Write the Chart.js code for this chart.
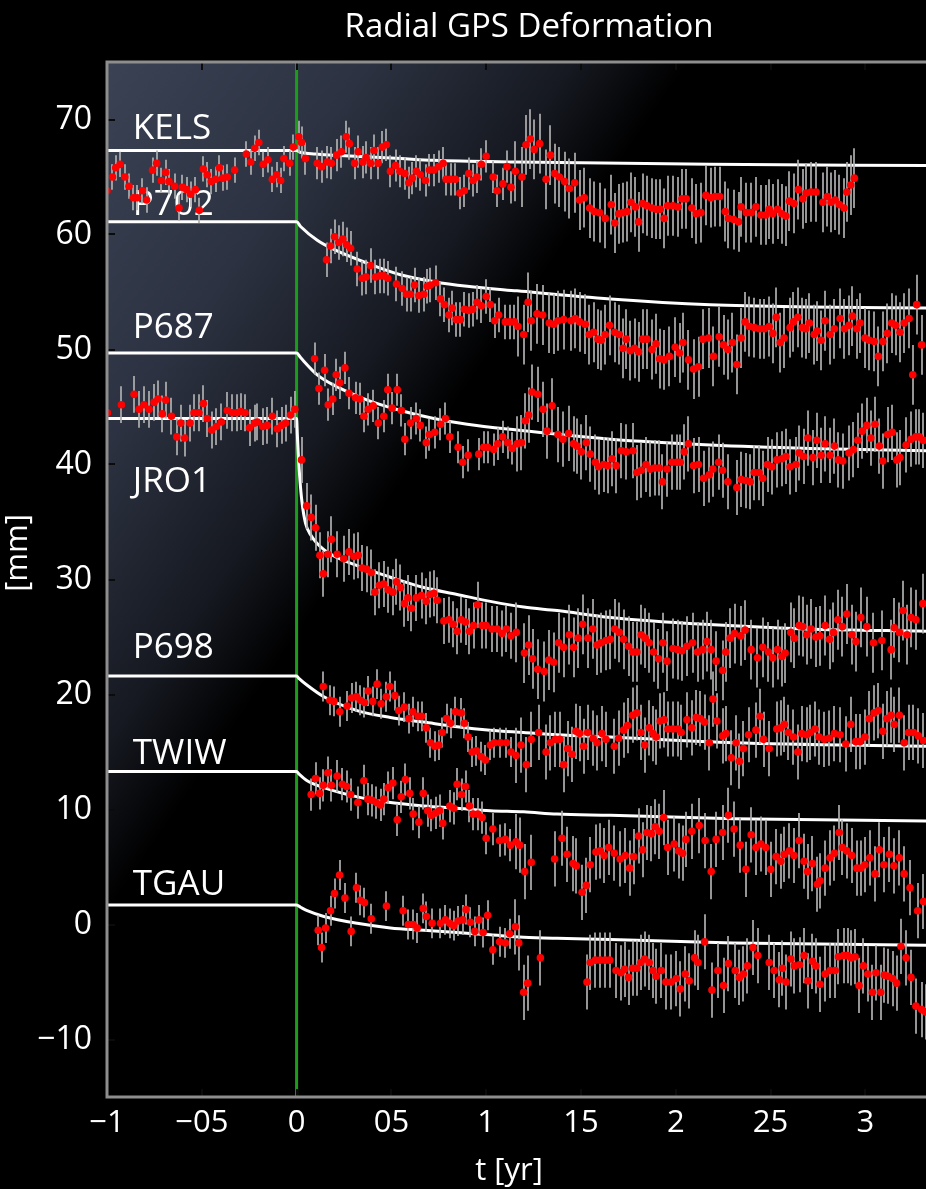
<!DOCTYPE html>
<html>
<head>
<meta charset="utf-8">
<title>Radial GPS Deformation</title>
<script src="https://cdn.jsdelivr.net/npm/chart.js@4.4.1/dist/chart.umd.min.js"></script>
<style>
  html, body { margin: 0; padding: 0; background: #000; }
  #wrap { width: 926px; height: 1189px; position: relative; }
  canvas { display: block; }
</style>
</head>
<body>
<div id="wrap"><canvas id="c" width="926" height="1189"></canvas></div>
<script>
// ---- axes ----
const xMin = -1, xMax = 3.32;
const yMin = -15, yMax = 75;
const xTickVals = [-1, -0.5, 0, 0.5, 1, 1.5, 2, 2.5, 3];
const xTickText = ['\u22121', '\u221205', '0', '05', '1', '15', '2', '25', '3'];
const yTickVals = [-10, 0, 10, 20, 30, 40, 50, 60, 70];
const yTickText = ['\u221210', '0', '10', '20', '30', '40', '50', '60', '70'];

// ---- stations ----
const stationNames = ['KELS', 'P702', 'P687', 'JRO1', 'P698', 'TWIW', 'TGAU'];
const labelLevels = [68.3, 61.7, 51.0, 37.6, 23.2, 14.0, 2.6];   // mm, text baseline
const labelT = -0.864;                                           // yr, text start
// error-bar half widths (mm): before event, early post-event, late post-event
const errPre   = [1.1, 0, 0, 1.6, 0, 0, 0];
const errEarly = [1.4, 1.5, 1.4, 2.0, 1.3, 1.4, 1.3];
const errLate  = [2.6, 2.6, 2.4, 2.6, 2.4, 2.4, 2.4];
const errSwitchT = 1.15;

// ---- observations [t (yr), radial (mm)] ----
const kelsObs = [[-1.000,63.8],[-0.971,65.0],[-0.954,65.8],[-0.931,66.1],[-0.906,65.0],[-0.884,64.2],[-0.861,63.2],[-0.840,63.2],[-0.813,63.8],[-0.791,63.0],[-0.760,65.6],[-0.738,66.2],[-0.713,64.7],[-0.690,65.4],[-0.673,64.6],[-0.643,64.2],[-0.620,62.3],[-0.602,64.1],[-0.580,63.9],[-0.559,63.5],[-0.534,63.9],[-0.513,62.1],[-0.492,65.7],[-0.471,65.2],[-0.450,64.6],[-0.427,64.8],[-0.407,65.8],[-0.390,64.9],[-0.365,65.0],[-0.327,65.6],[-0.265,67.0],[-0.242,66.3],[-0.221,67.5],[-0.199,68.0],[-0.176,66.1],[-0.151,66.5],[-0.128,64.8],[-0.105,65.2],[-0.084,64.7],[-0.067,66.6],[-0.037,66.2],[-0.017,67.6],
[0.012,68.5],[0.026,68.0],[0.047,66.6],[0.109,66.2],[0.132,65.9],[0.162,66.3],[0.184,66.2],[0.211,66.9],[0.236,67.2],[0.262,68.5],[0.279,67.9],[0.306,66.2],[0.325,67.2],[0.350,66.3],[0.367,66.7],[0.390,66.2],[0.408,67.3],[0.430,66.2],[0.452,67.6],[0.474,67.8],[0.495,65.5],[0.522,66.0],[0.545,65.5],[0.571,65.3],[0.592,64.5],[0.610,64.9],[0.632,65.5],[0.653,65.2],[0.680,64.7],[0.701,65.6],[0.724,65.6],[0.750,65.9],[0.773,66.2],[0.789,64.8],[0.812,64.8],[0.838,64.8],[0.861,63.6],[0.885,63.8],[0.908,65.3],[0.931,64.7],[0.952,65.0],[0.975,66.1],[1.000,66.8],[1.037,65.0],[1.058,63.8],[1.088,64.4],[1.110,65.9],[1.131,64.1],[1.154,65.5],[1.189,65.0],[1.210,67.8],[1.233,68.3],[1.254,67.4],[1.282,67.9],[1.316,64.8],[1.339,66.9],[1.361,65.3],[1.386,65.0],[1.414,64.6],[1.439,64.0],[1.467,64.5],[1.493,63.0],[1.518,63.2],[1.546,62.3],[1.570,62.0],[1.598,61.9],[1.628,61.4],[1.660,62.6],[1.678,61.0],[1.699,61.8],[1.722,61.9],[1.743,62.0],[1.764,62.8],[1.787,62.4],[1.804,61.1],[1.825,62.7],[1.848,62.5],[1.875,62.3],[1.897,62.2],[1.918,62.2],[1.939,61.4],[1.957,62.5],[1.985,62.5],[2.012,62.4],[2.033,63.1],[2.055,63.1],[2.085,62.3],[2.108,61.8],[2.133,61.9],[2.159,63.4],[2.185,63.2],[2.208,63.3],[2.231,63.3],[2.261,62.0],[2.278,61.4],[2.305,61.3],[2.331,61.1],[2.345,62.4],[2.372,61.9],[2.398,61.9],[2.423,62.4],[2.449,61.7],[2.475,61.7],[2.493,62.2],[2.512,61.8],[2.537,62.2],[2.560,61.8],[2.581,61.6],[2.600,62.9],[2.624,62.7],[2.647,63.9],[2.670,63.1],[2.688,63.6],[2.714,63.7],[2.740,63.7],[2.776,62.8],[2.800,63.3],[2.820,62.8],[2.841,63.0],[2.863,62.6],[2.888,62.3],[2.902,63.7],[2.923,64.3],[2.942,64.9]];

const p702Obs = [[0.158,57.8],[0.179,59.0],[0.200,59.8],[0.223,59.3],[0.244,59.6],[0.264,59.1],[0.285,58.8],[0.320,57.0],[0.346,56.2],[0.367,56.3],[0.390,57.3],[0.416,56.3],[0.439,56.4],[0.460,56.4],[0.481,56.2],[0.527,55.7],[0.557,55.3],[0.580,54.8],[0.601,54.8],[0.622,55.6],[0.645,54.7],[0.671,54.8],[0.689,55.5],[0.706,55.6],[0.733,55.8],[0.759,54.4],[0.780,53.9],[0.803,53.0],[0.821,53.6],[0.842,52.6],[0.864,52.6],[0.885,53.5],[0.908,53.4],[0.929,53.5],[0.952,54.1],[0.975,53.8],[1.000,54.6],[1.022,53.9],[1.045,52.5],[1.066,53.0],[1.101,52.4],[1.124,52.4],[1.149,52.4],[1.168,52.0],[1.198,51.3],[1.221,54.1],[1.238,52.5],[1.268,53.1],[1.298,53.0],[1.333,52.3],[1.356,52.2],[1.379,52.5],[1.409,52.6],[1.448,52.5],[1.470,52.7],[1.493,52.4],[1.523,52.2],[1.544,51.3],[1.567,51.5],[1.590,50.9],[1.607,50.8],[1.628,51.3],[1.651,52.1],[1.678,51.5],[1.702,51.3],[1.722,50.1],[1.739,50.9],[1.760,49.9],[1.783,50.1],[1.804,49.8],[1.825,50.9],[1.848,50.9],[1.875,50.0],[1.896,50.5],[1.915,49.2],[1.939,49.1],[1.967,49.4],[1.997,50.2],[2.020,49.7],[2.038,50.6],[2.067,49.1],[2.094,48.3],[2.120,48.5],[2.143,50.9],[2.173,51.0],[2.199,49.4],[2.229,51.1],[2.252,50.4],[2.275,50.0],[2.299,50.6],[2.322,48.7],[2.345,51.0],[2.366,52.4],[2.389,52.0],[2.415,51.9],[2.442,51.8],[2.468,51.8],[2.493,52.0],[2.512,51.4],[2.530,52.8],[2.551,50.6],[2.572,51.0],[2.603,51.9],[2.621,52.4],[2.644,52.8],[2.668,51.9],[2.686,51.8],[2.705,52.3],[2.730,51.3],[2.747,51.6],[2.767,50.8],[2.788,52.5],[2.814,51.3],[2.837,51.8],[2.867,52.7],[2.890,51.8],[2.914,52.1],[2.932,52.9],[2.955,51.8],[2.972,52.3],[2.998,51.0],[3.021,50.8],[3.047,50.7],[3.069,49.4],[3.092,50.7],[3.116,51.4],[3.139,52.3],[3.160,52.1],[3.183,51.5],[3.205,52.3],[3.231,52.7],[3.250,47.8],[3.271,53.9],[3.297,50.4]];

const p687Obs = [[0.095,49.2],[0.118,46.6],[0.148,48.2],[0.167,45.2],[0.191,45.7],[0.209,47.8],[0.228,47.1],[0.255,48.4],[0.276,46.2],[0.311,45.8],[0.334,45.7],[0.355,44.2],[0.378,44.8],[0.404,45.1],[0.431,43.6],[0.460,44.2],[0.481,46.5],[0.504,44.9],[0.531,46.5],[0.553,44.7],[0.571,42.2],[0.601,43.6],[0.631,44.0],[0.653,43.4],[0.684,41.9],[0.701,42.6],[0.729,42.8],[0.759,43.5],[0.785,44.0],[0.808,42.4],[0.852,41.5],[0.876,40.2],[0.905,40.8],[0.961,40.9],[0.987,41.5],[1.008,41.5],[1.040,41.3],[1.061,41.8],[1.087,42.4],[1.114,41.9],[1.137,41.4],[1.163,41.8],[1.186,41.9],[1.207,43.8],[1.224,44.3],[1.242,46.3],[1.272,46.1],[1.300,44.8],[1.321,42.9],[1.348,45.1],[1.379,42.6],[1.405,42.2],[1.435,42.7],[1.461,41.8],[1.479,41.6],[1.502,41.1],[1.528,41.9],[1.549,40.9],[1.576,40.2],[1.593,39.8],[1.620,40.0],[1.641,39.9],[1.664,40.5],[1.686,39.9],[1.713,41.2],[1.739,41.1],[1.774,41.2],[1.795,39.3],[1.818,39.5],[1.843,40.0],[1.866,39.6],[1.888,39.7],[1.913,39.7],[1.930,38.5],[1.954,39.6],[1.980,40.2],[2.006,40.2],[2.024,40.2],[2.045,41.1],[2.067,41.8],[2.094,39.9],[2.120,40.0],[2.147,38.8],[2.177,39.1],[2.196,39.6],[2.226,40.2],[2.247,39.5],[2.275,38.5],[2.322,38.0],[2.345,38.7],[2.370,38.6],[2.393,38.5],[2.414,39.3],[2.440,39.3],[2.459,38.8],[2.484,40.0],[2.507,39.8],[2.533,40.4],[2.560,40.5],[2.581,40.7],[2.603,39.8],[2.634,40.0],[2.651,41.0],[2.674,40.7],[2.697,42.3],[2.723,40.6],[2.744,42.1],[2.767,40.8],[2.788,41.8],[2.814,40.8],[2.837,41.6],[2.858,40.4],[2.881,40.3],[2.914,41.0],[2.937,41.3],[2.960,42.1],[2.984,42.9],[3.008,43.4],[3.029,42.3],[3.051,43.5],[3.074,41.6],[3.092,40.3],[3.118,42.6],[3.142,42.8],[3.166,40.4],[3.183,40.6],[3.215,41.7],[3.241,42.2],[3.266,42.4],[3.285,42.4],[3.306,42.1]];

const jro1Obs = [[-0.998,44.5],[-0.924,45.2],[-0.857,46.1],[-0.831,44.8],[-0.805,45.2],[-0.778,44.8],[-0.752,45.4],[-0.731,45.7],[-0.708,44.4],[-0.690,45.6],[-0.660,44.2],[-0.632,42.4],[-0.611,43.6],[-0.590,42.3],[-0.562,43.6],[-0.541,44.5],[-0.515,44.5],[-0.492,45.3],[-0.471,44.0],[-0.448,43.0],[-0.423,43.3],[-0.397,43.7],[-0.365,44.7],[-0.339,44.5],[-0.316,44.5],[-0.295,44.6],[-0.272,44.5],[-0.248,43.2],[-0.221,43.6],[-0.207,43.7],[-0.178,43.3],[-0.155,43.4],[-0.128,44.2],[-0.102,43.1],[-0.079,43.4],[-0.058,43.6],[-0.032,44.3],[-0.009,44.8],
[0.026,40.4],[0.053,36.4],[0.077,35.4],[0.100,34.5],[0.123,32.1],[0.141,30.5],[0.165,32.2],[0.184,33.5],[0.214,32.2],[0.249,31.8],[0.276,32.4],[0.302,32.0],[0.325,32.1],[0.346,31.0],[0.369,30.9],[0.394,30.6],[0.413,28.9],[0.437,29.5],[0.460,29.6],[0.483,29.1],[0.508,28.9],[0.527,29.8],[0.548,29.3],[0.569,27.9],[0.587,28.4],[0.606,27.5],[0.631,28.4],[0.659,28.6],[0.684,28.1],[0.703,28.7],[0.724,28.8],[0.742,28.2],[0.777,26.4],[0.803,26.5],[0.826,26.1],[0.847,25.5],[0.868,26.5],[0.891,26.3],[0.912,25.5],[0.934,26.0],[0.955,27.8],[0.979,26.0],[1.000,26.0],[1.031,25.7],[1.058,25.7],[1.084,25.3],[1.107,25.7],[1.131,25.1],[1.159,25.4],[1.202,23.6],[1.224,24.3],[1.245,23.1],[1.272,22.2],[1.307,22.0],[1.330,23.0],[1.356,22.8],[1.382,24.5],[1.409,24.1],[1.439,25.2],[1.461,24.1],[1.485,24.9],[1.509,26.1],[1.537,24.9],[1.562,25.7],[1.585,24.3],[1.607,24.5],[1.632,24.7],[1.655,24.8],[1.678,25.7],[1.702,25.4],[1.725,24.8],[1.751,24.2],[1.774,23.7],[1.795,23.7],[1.818,25.2],[1.839,24.9],[1.860,24.5],[1.883,23.7],[1.909,23.1],[1.932,24.5],[1.954,22.9],[1.985,24.0],[2.010,23.9],[2.033,23.8],[2.059,24.2],[2.089,24.5],[2.115,23.7],[2.143,23.9],[2.164,24.6],[2.187,23.9],[2.213,22.9],[2.247,22.1],[2.264,23.7],[2.287,24.9],[2.310,25.3],[2.343,25.1],[2.366,25.6],[2.398,23.9],[2.431,23.2],[2.459,24.1],[2.489,23.7],[2.512,23.2],[2.537,23.9],[2.560,23.3],[2.577,23.6],[2.607,25.4],[2.626,24.9],[2.651,26.0],[2.670,25.9],[2.691,25.2],[2.714,25.7],[2.739,25.0],[2.761,25.1],[2.788,26.0],[2.811,24.8],[2.832,25.4],[2.855,26.5],[2.879,25.9],[2.902,27.0],[2.929,25.2],[2.951,24.6],[2.976,26.7],[3.008,25.9],[3.043,24.5],[3.087,24.7],[3.136,23.9],[3.153,25.8],[3.180,25.4],[3.199,27.3],[3.220,25.2],[3.241,26.7],[3.267,26.5],[3.303,27.9]];

const p698Obs = [[0.141,20.7],[0.176,19.5],[0.197,19.4],[0.228,18.5],[0.267,19.0],[0.290,19.7],[0.316,19.8],[0.337,19.5],[0.358,19.3],[0.378,20.3],[0.402,19.4],[0.425,20.9],[0.446,19.2],[0.473,19.8],[0.492,20.7],[0.518,19.9],[0.539,18.6],[0.569,18.9],[0.592,17.9],[0.613,18.5],[0.641,18.1],[0.659,18.1],[0.684,17.1],[0.706,15.8],[0.729,15.5],[0.750,15.6],[0.768,16.7],[0.791,17.9],[0.812,17.5],[0.838,18.5],[0.868,18.4],[0.885,17.5],[0.905,16.3],[0.926,15.0],[0.949,15.1],[0.973,14.6],[0.996,14.3],[1.022,15.6],[1.043,15.8],[1.075,15.8],[1.107,15.8],[1.131,15.0],[1.158,14.7],[1.184,15.6],[1.212,13.9],[1.238,16.1],[1.277,16.7],[1.316,15.0],[1.339,15.8],[1.365,16.1],[1.388,16.1],[1.409,13.9],[1.430,15.3],[1.453,14.8],[1.474,16.8],[1.493,16.6],[1.514,15.5],[1.535,16.7],[1.564,16.2],[1.585,15.8],[1.611,16.6],[1.632,16.1],[1.676,15.5],[1.699,16.2],[1.725,16.9],[1.746,17.3],[1.772,18.2],[1.795,18.4],[1.816,16.7],[1.836,15.6],[1.860,17.1],[1.880,16.6],[1.897,16.3],[1.918,17.7],[1.939,17.8],[1.959,17.0],[1.985,17.0],[2.012,17.0],[2.029,16.7],[2.059,17.8],[2.085,17.1],[2.108,18.0],[2.129,17.9],[2.152,17.6],[2.177,15.8],[2.196,19.6],[2.217,17.7],[2.247,16.4],[2.266,16.6],[2.293,14.5],[2.318,15.8],[2.336,14.2],[2.357,15.3],[2.384,16.5],[2.423,16.9],[2.445,18.1],[2.463,16.1],[2.493,15.3],[2.533,17.0],[2.554,17.1],[2.573,17.4],[2.594,16.7],[2.621,16.3],[2.644,15.0],[2.665,16.6],[2.691,16.5],[2.709,16.7],[2.735,17.0],[2.756,16.3],[2.784,16.1],[2.809,16.2],[2.837,16.6],[2.867,16.5],[2.897,15.7],[2.923,17.4],[2.950,15.9],[2.972,15.9],[2.998,16.3],[3.021,17.9],[3.046,18.4],[3.069,18.6],[3.092,16.8],[3.114,17.9],[3.136,18.2],[3.153,17.4],[3.180,18.2],[3.205,15.8],[3.228,16.7],[3.254,16.7],[3.280,16.4],[3.306,16.0]];

const twiwObs = [[0.077,11.3],[0.100,12.7],[0.121,11.4],[0.141,12.1],[0.165,13.2],[0.184,12.1],[0.214,12.9],[0.241,12.2],[0.264,12.0],[0.285,11.3],[0.323,10.6],[0.355,12.5],[0.376,10.9],[0.399,10.8],[0.421,10.6],[0.443,10.4],[0.460,10.9],[0.483,11.9],[0.508,12.3],[0.531,9.1],[0.552,11.1],[0.574,12.6],[0.597,11.4],[0.615,9.6],[0.645,8.9],[0.668,11.4],[0.692,9.9],[0.711,9.5],[0.733,9.7],[0.754,9.9],[0.771,8.8],[0.808,10.3],[0.829,10.1],[0.847,12.2],[0.870,11.3],[0.891,12.0],[0.912,10.3],[0.931,9.6],[0.956,9.6],[0.979,9.3],[1.000,7.5],[1.035,8.3],[1.071,7.3],[1.101,7.4],[1.128,6.9],[1.158,7.2],[1.177,6.9],[1.203,4.6],[1.238,5.4],[1.361,5.7],[1.400,7.5],[1.427,6.1],[1.458,5.3],[1.476,5.1],[1.506,2.8],[1.528,3.4],[1.549,5.2],[1.579,6.3],[1.602,6.4],[1.623,6.0],[1.646,6.7],[1.676,6.2],[1.707,5.7],[1.734,6.0],[1.757,4.9],[1.778,5.9],[1.804,7.7],[1.825,6.5],[1.848,8.0],[1.871,7.9],[1.892,8.5],[1.913,8.1],[1.936,9.3],[1.957,6.7],[1.992,7.0],[2.015,6.4],[2.036,6.2],[2.054,7.4],[2.085,8.1],[2.124,8.6],[2.155,7.3],[2.187,4.6],[2.213,7.4],[2.247,8.0],[2.278,9.5],[2.308,8.3],[2.340,6.9],[2.370,4.8],[2.398,7.8],[2.423,6.7],[2.449,7.0],[2.475,6.7],[2.501,4.8],[2.529,5.9],[2.554,5.5],[2.572,6.1],[2.600,6.4],[2.624,6.0],[2.651,7.3],[2.677,5.5],[2.695,4.6],[2.721,5.3],[2.747,3.5],[2.761,3.8],[2.788,4.9],[2.814,5.8],[2.837,6.2],[2.862,8.0],[2.879,6.7],[2.902,6.4],[2.929,6.0],[2.955,4.9],[2.976,4.9],[2.998,5.2],[3.024,5.8],[3.051,4.4],[3.074,6.5],[3.098,5.2],[3.127,6.1],[3.151,5.1],[3.179,5.8],[3.205,4.4],[3.236,3.2],[3.276,1.2],[3.306,2.0]];

const tgauObs = [[0.114,-0.5],[0.132,-2.0],[0.153,-0.3],[0.179,1.2],[0.200,2.7],[0.227,4.3],[0.255,2.3],[0.288,-0.6],[0.316,3.2],[0.337,2.1],[0.358,1.9],[0.394,0.5],[0.474,1.6],[0.562,1.2],[0.589,0.0],[0.615,0.0],[0.636,-0.3],[0.668,1.4],[0.685,0.7],[0.715,0.1],[0.759,0.1],[0.785,0.4],[0.808,0.1],[0.829,-0.1],[0.852,0.3],[0.876,0.4],[0.894,1.3],[0.917,0.2],[0.940,-0.6],[0.961,0.4],[0.984,-0.7],[1.008,0.8],[1.035,-2.2],[1.071,-1.5],[1.101,-1.6],[1.124,-0.8],[1.154,-0.2],[1.172,-1.6],[1.198,-5.9],[1.219,-5.1],[1.286,-2.9],[1.532,-5.0],[1.549,-3.3],[1.576,-3.1],[1.602,-3.1],[1.628,-3.1],[1.651,-3.1],[1.685,-4.0],[1.711,-4.2],[1.730,-3.9],[1.751,-4.6],[1.772,-3.8],[1.795,-3.8],[1.816,-3.3],[1.836,-3.0],[1.860,-3.3],[1.880,-4.0],[1.897,-4.5],[1.924,-4.0],[1.948,-5.0],[1.976,-5.0],[2.003,-4.7],[2.024,-5.6],[2.050,-4.3],[2.071,-4.9],[2.099,-2.9],[2.117,-3.3],[2.152,-1.5],[2.191,-5.7],[2.222,-4.0],[2.252,-5.3],[2.278,-3.4],[2.314,-4.0],[2.336,-4.6],[2.357,-4.3],[2.378,-3.6],[2.407,-2.0],[2.433,-2.7],[2.493,-3.3],[2.519,-4.0],[2.546,-4.8],[2.563,-3.8],[2.582,-5.0],[2.607,-3.0],[2.626,-3.6],[2.653,-3.5],[2.677,-2.7],[2.697,-4.9],[2.721,-3.2],[2.739,-3.6],[2.761,-5.2],[2.788,-4.3],[2.814,-4.0],[2.841,-4.0],[2.858,-2.8],[2.885,-2.7],[2.906,-2.7],[2.925,-2.9],[2.946,-2.8],[2.967,-5.3],[2.990,-3.6],[3.013,-4.3],[3.037,-5.9],[3.056,-4.2],[3.081,-5.9],[3.100,-4.4],[3.121,-4.5],[3.144,-4.7],[3.165,-5.1],[3.188,-1.9],[3.215,-2.9],[3.241,-4.6],[3.267,-7.1],[3.297,-7.4],[3.318,-7.6]];

// ---- model curves [t (yr), radial (mm)] ----
const kelsFit = [[-1,67.3],[0,67.3],[0.02,67.15],[0.1,67.0],[0.2,66.9],[0.55,66.6],[0.72,66.45],[1.16,66.3],[2.18,66.1],[3.32,66.0]];
const p702Fit = [[-1,61.1],[0,61.1],[0.021,60.7],[0.109,59.5],[0.197,58.7],[0.373,57.5],[0.548,56.5],[0.724,55.9],[0.900,55.5],[1.163,55.1],[1.655,54.4],[2.182,53.9],[2.709,53.7],[3.32,53.6]];
const p687Fit = [[-1,49.7],[0,49.7],[0.021,49.3],[0.109,47.8],[0.197,46.9],[0.373,45.6],[0.548,44.7],[0.724,44.0],[0.900,43.5],[1.163,43.0],[1.655,42.2],[2.182,41.7],[2.709,41.4],[3.32,41.2]];
const jro1Fit = [[-1,44.0],[0,44.0],[0.004,42.6],[0.010,40.6],[0.018,38.6],[0.028,36.8],[0.047,34.9],[0.074,33.9],[0.144,32.6],[0.320,31.2],[0.495,30.2],[0.671,29.3],[0.847,28.7],[1.022,28.1],[1.198,27.6],[1.374,27.3],[1.655,26.7],[2.150,26.1],[2.687,25.7],[3.32,25.5]];
const p698Fit = [[-1,21.6],[0,21.6],[0.012,21.4],[0.056,20.8],[0.144,19.8],[0.320,18.6],[0.495,18.0],[0.671,17.6],[0.847,17.2],[1.022,16.9],[1.198,16.7],[1.374,16.5],[1.655,16.3],[2.305,15.8],[3.32,15.5]];
const twiwFit = [[-1,13.3],[0,13.3],[0.012,13.1],[0.056,12.5],[0.144,11.9],[0.320,11.1],[0.495,10.6],[0.671,10.3],[0.847,10.1],[1.022,9.9],[1.198,9.8],[1.374,9.6],[1.655,9.5],[2.305,9.2],[3.32,9.0]];
const tgauFit = [[-1,1.7],[0,1.7],[0.021,1.5],[0.056,1.2],[0.144,0.7],[0.320,0.1],[0.495,-0.3],[0.671,-0.5],[0.847,-0.7],[1.022,-0.9],[1.198,-1.1],[1.374,-1.2],[1.655,-1.3],[2.305,-1.6],[3.32,-1.8]];

// event time marker
const eventT = 0;

const observations = [kelsObs, p702Obs, p687Obs, jro1Obs, p698Obs, twiwObs, tgauObs];
const fits = [kelsFit, p702Fit, p687Fit, jro1Fit, p698Fit, twiwFit, tgauFit];

const FONT = '"Open Sans", "DejaVu Sans", sans-serif';
const toXY = arr => arr.map(p => ({x: p[0], y: p[1]}));

function halfError(stationIdx, t) {
  if (t < 0) return errPre[stationIdx];
  return t < errSwitchT ? errEarly[stationIdx] : errLate[stationIdx];
}

const datasets = [];
// green event line
datasets.push({
  type: 'line', kind: 'event',
  data: [{x: eventT, y: yMin}, {x: eventT, y: yMax}],
  borderColor: '#1b9c1b', borderWidth: 3, pointRadius: 0, order: 3, clip: 0
});
// model curves
fits.forEach((f, i) => datasets.push({
  type: 'line', kind: 'fit', station: i,
  data: toXY(f),
  borderColor: '#ffffff', borderWidth: 3, pointRadius: 0,
  cubicInterpolationMode: 'monotone', order: 2, clip: 0
}));
// observations
observations.forEach((o, i) => datasets.push({
  type: 'scatter', kind: 'obs', station: i,
  data: toXY(o),
  backgroundColor: '#ff0000', borderWidth: 0, pointRadius: 3.8,
  order: 1, clip: 0
}));

let barsDrawn = false;

const decor = {
  id: 'decor',
  beforeDraw(chart) {
    const {ctx, chartArea: a, scales} = chart;
    ctx.save();
    ctx.fillStyle = '#000';
    ctx.fillRect(0, 0, chart.width, chart.height);
    // soft light in the upper-left of the plot
    const L = 480;
    const g = ctx.createLinearGradient(a.left, a.top, a.left + 0.826 * L, a.top + 0.565 * L);
    g.addColorStop(0, 'rgb(58,66,84)');
    g.addColorStop(0.45, 'rgb(44,50,65)');
    g.addColorStop(0.8, 'rgb(22,25,33)');
    g.addColorStop(1, 'rgb(0,0,0)');
    ctx.fillStyle = g;
    ctx.fillRect(a.left, a.top, a.right - a.left, a.bottom - a.top);
    // station names
    ctx.fillStyle = '#ffffff';
    ctx.font = '35px ' + FONT;
    ctx.textAlign = 'left';
    ctx.textBaseline = 'alphabetic';
    stationNames.forEach((n, i) => {
      ctx.fillText(n, scales.x.getPixelForValue(labelT), scales.y.getPixelForValue(labelLevels[i]));
    });
    ctx.restore();
    barsDrawn = false;
  },
  beforeDatasetDraw(chart, args) {
    const ds = chart.data.datasets[args.index];
    if (barsDrawn || ds.kind !== 'obs') return;
    barsDrawn = true;
    const {ctx, chartArea: a, scales: {x, y}} = chart;
    ctx.save();
    ctx.beginPath();
    ctx.rect(a.left, a.top, a.right - a.left, a.bottom - a.top);
    ctx.clip();
    ctx.strokeStyle = 'rgba(175,175,175,0.85)';
    ctx.lineWidth = 2;
    ctx.beginPath();
    observations.forEach((o, i) => {
      o.forEach(p => {
        const e = halfError(i, p[0]);
        const px = Math.round(x.getPixelForValue(p[0]));
        ctx.moveTo(px, y.getPixelForValue(p[1] + e));
        ctx.lineTo(px, y.getPixelForValue(p[1] - e));
      });
    });
    ctx.stroke();
    ctx.restore();
  },
  afterDatasetsDraw(chart) {
    const {ctx, chartArea: a, scales: {x, y}} = chart;
    ctx.save();
    // inward tick marks
    ctx.strokeStyle = '#0b0b0b';
    ctx.lineWidth = 2;
    ctx.beginPath();
    yTickVals.forEach(v => {
      const py = Math.round(y.getPixelForValue(v));
      ctx.moveTo(a.left, py); ctx.lineTo(a.left + 8, py);
    });
    xTickVals.forEach(v => {
      const px = Math.round(x.getPixelForValue(v));
      ctx.moveTo(px, a.top); ctx.lineTo(px, a.top + 8);
      ctx.moveTo(px, a.bottom); ctx.lineTo(px, a.bottom - 8);
    });
    ctx.stroke();
    // frame
    ctx.strokeStyle = '#8e8e8e';
    ctx.lineWidth = 3;
    ctx.beginPath();
    ctx.moveTo(chart.width + 5, a.top);
    ctx.lineTo(a.left, a.top);
    ctx.lineTo(a.left, a.bottom);
    ctx.lineTo(chart.width + 5, a.bottom);
    ctx.stroke();
    ctx.restore();
  },
  afterDraw(chart) {
    const {ctx} = chart;
    ctx.save();
    ctx.fillStyle = '#ffffff';
    ctx.textAlign = 'center';
    ctx.textBaseline = 'alphabetic';
    ctx.font = '33px ' + FONT;
    ctx.fillText('Radial GPS Deformation', 529, 37);
    ctx.font = '31px ' + FONT;
    ctx.fillText('t [yr]', 509, 1180);
    ctx.translate(27, 553);
    ctx.rotate(-Math.PI / 2);
    ctx.fillText('[mm]', 0, 0);
    ctx.restore();
  }
};

function labelFor(vals, texts, v) {
  const i = vals.findIndex(t => Math.abs(t - v) < 1e-9);
  return i < 0 ? '' : texts[i];
}

function build() {
  new Chart(document.getElementById('c'), {
    type: 'scatter',
    data: {datasets},
    plugins: [decor],
    options: {
      responsive: false,
      animation: false,
      devicePixelRatio: 1,
      layout: {autoPadding: false, padding: {top: 62, left: 0, right: 0, bottom: 0}},
      plugins: {legend: {display: false}, tooltip: {enabled: false}, title: {display: false}},
      scales: {
        x: {
          type: 'linear', min: xMin, max: xMax,
          afterBuildTicks: s => { s.ticks = xTickVals.map(v => ({value: v})); },
          afterFit: s => { s.height = 92; s.paddingLeft = 0; s.paddingRight = 0; },
          grid: {display: false, drawTicks: false},
          border: {display: false},
          ticks: {
            color: '#ffffff', font: {family: FONT, size: 31}, padding: 8,
            autoSkip: false, maxRotation: 0, minRotation: 0,
            callback: v => labelFor(xTickVals, xTickText, v)
          }
        },
        y: {
          type: 'linear', min: yMin, max: yMax,
          afterBuildTicks: s => { s.ticks = yTickVals.map(v => ({value: v})); },
          afterFit: s => { s.width = 107; s.paddingTop = 0; s.paddingBottom = 0; },
          grid: {display: false, drawTicks: false},
          border: {display: false},
          ticks: {
            color: '#ffffff', font: {family: FONT, size: 32}, padding: 15,
            autoSkip: false,
            callback: v => labelFor(yTickVals, yTickText, v)
          }
        }
      }
    }
  });
}

if (document.fonts && document.fonts.load) {
  Promise.all([document.fonts.load('31px "Open Sans"'), document.fonts.load('35px "Open Sans"')])
    .then(build, build);
} else {
  build();
}
</script>
</body>
</html>
